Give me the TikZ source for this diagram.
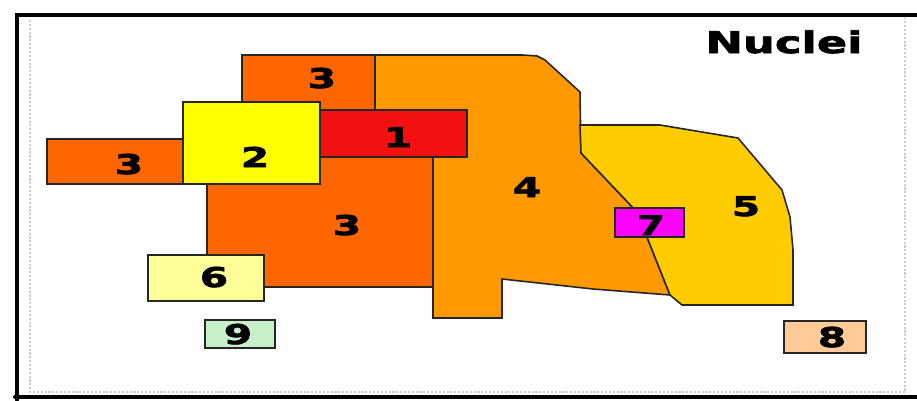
\documentclass[tikz,border=0pt]{standalone}
\usepackage{fontspec}
\newfontfamily\nucfont{DejaVu Sans Bold}[FakeStretch=1.5, FakeBold=2.5]
\definecolor{nuc1}{HTML}{F21010}
\definecolor{nuc2}{HTML}{FFFF00}
\definecolor{nuc3}{HTML}{FF6600}
\definecolor{nuc4}{HTML}{FF9900}
\definecolor{nuc5}{HTML}{FFCC00}
\definecolor{nuc6}{HTML}{FFFF99}
\definecolor{nuc7}{HTML}{FF00FF}
\definecolor{nuc8}{HTML}{FFCC99}
\definecolor{nuc9}{HTML}{C8F0C8}

\begin{document}
\begin{tikzpicture}[
    x=0.02cm, y=-0.02cm,
    region/.style={draw=black!85, line width=0.9pt, fill=#1},
    num/.style={font=\nucfont\fontsize{15.5}{16}\selectfont, anchor=base, inner sep=0pt},
    rim/.style={line width=2.3pt, black, line cap=round},
    mat/.style={line width=1.2pt, gray!40, densely dotted}
]
\useasboundingbox (0,0) rectangle (917,400);
% frame
\draw[mat] (30,20) -- (30,392) -- (905,392) -- (905,18);
\draw[rim] (917,15) -- (17,15) -- (17,400);
\draw[rim] (15,397) -- (917,397);
% regions
\draw[region=nuc4] (375,55) -- (523,55) -- (537,56) -- (545,60) -- (580,92) -- (581,153)
    -- (637,212) -- (670,295) -- (593,289) -- (502,279) -- (502,318) -- (433,318)
    -- (433,157) -- (375,157) -- cycle;
\draw[region=nuc5] (580,125) -- (660,125) -- (738,138) -- (782,190) -- (790,217) -- (793,250)
    -- (793,305) -- (682,305) -- (670,295) -- (637,212) -- (581,153) -- cycle;
\draw[region=nuc3] (207,157) rectangle (433,287);
\draw[region=nuc3] (242,55) rectangle (375,110);
\draw[region=nuc3] (47,139) rectangle (183,184);
\draw[region=nuc1] (320,110) rectangle (467,157);
\draw[region=nuc2] (183,102) rectangle (320,184);
\draw[region=nuc6] (148,255) rectangle (264,301);
\draw[region=nuc7] (615,208) rectangle (684,237);
\draw[region=nuc9] (205,320) rectangle (275,348);
\draw[region=nuc8] (784,321) rectangle (866,353);
% labels
\node[num] (n1) at (398,147) {1};
\node[num] (n2) at (255,167) {2};
\node[num] (n3top) at (322,88) {3};
\node[num] (n3left) at (129,174) {3};
\node[num] (n3main) at (347,235) {3};
\node[num] (n4) at (527,197) {4};
\node[num] (n5) at (746,216) {5};
\node[num] (n6) at (214,287) {6};
\node[num] (n7) at (651,235) {7};
\node[num] (n8) at (832,347) {8};
\node[num] (n9) at (238,344) {9};
\node[num, font=\nucfont\fontsize{17}{18}\selectfont] (title) at (784,53) {Nuclei};
\end{tikzpicture}
\end{document}
